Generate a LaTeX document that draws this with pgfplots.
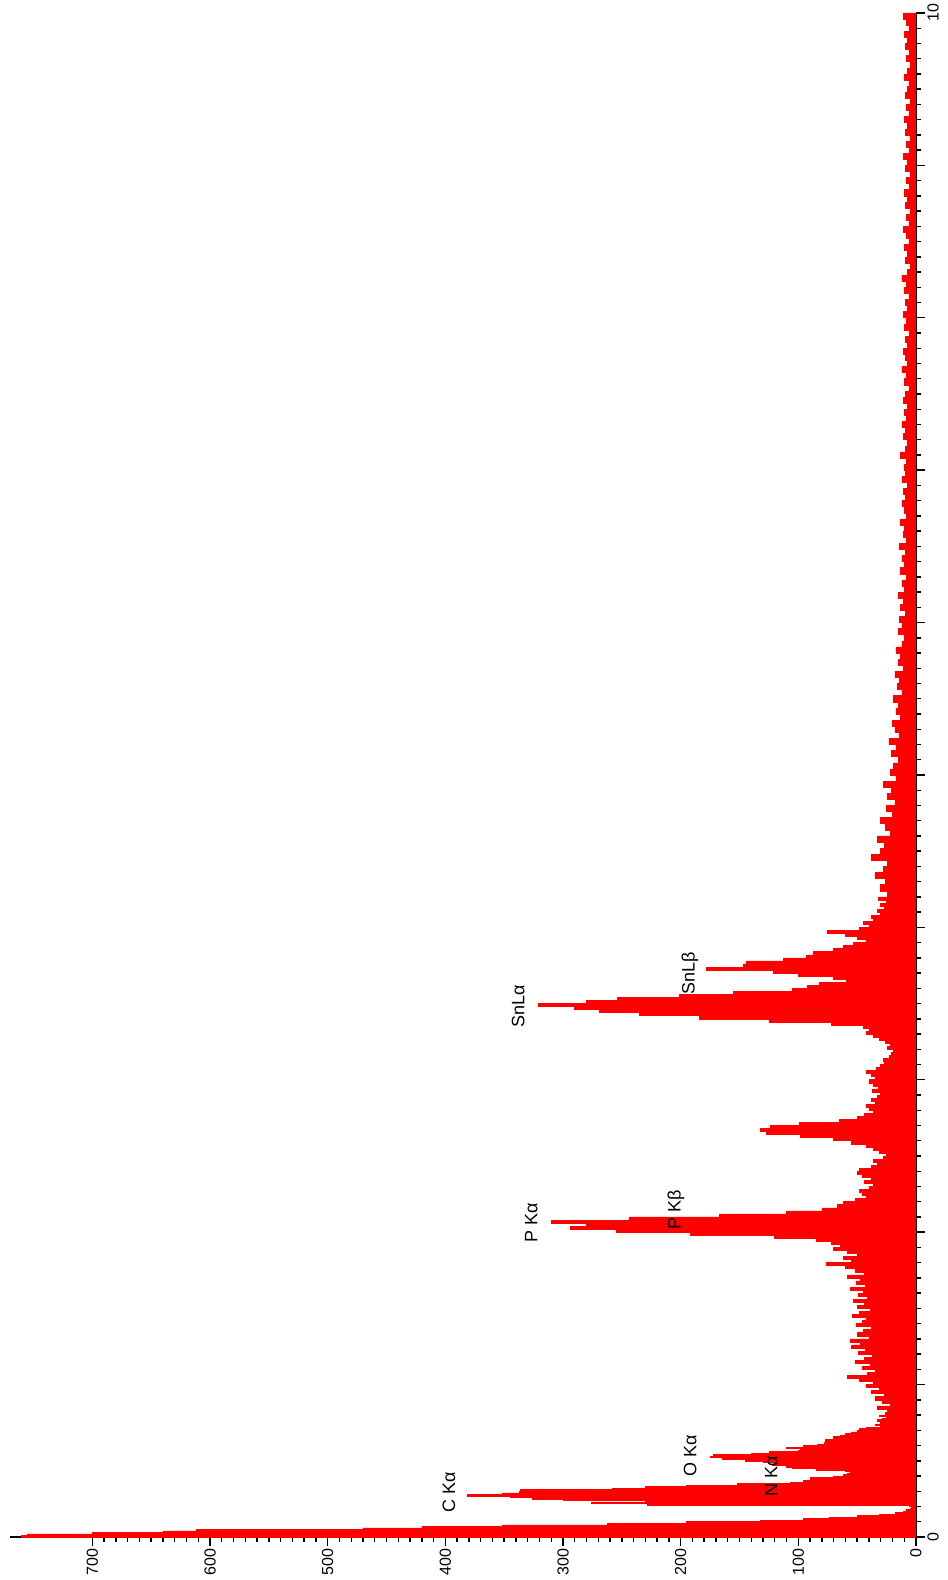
\documentclass[border=0pt]{standalone}
\usepackage{fontspec}
\setmainfont{Liberation Sans}
\usepackage{pgfplots}
\pgfplotsset{compat=1.18}

\begin{document}
\begin{tikzpicture}
\begin{axis}[
  name=ax,
  scale only axis,
  width=453pt, height=762pt,
  x dir=reverse,
  xmin=0, xmax=770,
  ymin=0, ymax=10,
  axis x line*=bottom,
  axis y line*=right,
  xtick={0,100,...,700},
  minor x tick num=9,
  ytick={0,1,...,10},
  yticklabels={0,,,,,,,,,,10},
  minor y tick num=9,
  tick align=outside,
  major tick length=4.5pt,
  minor tick length=2.5pt,
  tick style={black, line width=0.7pt},
  axis line style={black, line width=1pt},
  xticklabel style={rotate=90, anchor=east, inner sep=1pt, font=\fontsize{8}{9.6}\selectfont},
  yticklabel style={rotate=90, anchor=north, inner sep=1pt, font=\fontsize{8}{9.6}\selectfont},
  /pgf/number format/assume math mode=true,
  /pgf/number format/1000 sep={},
]
% EDS spectrum: (counts, energy in keV), drawn as a rotated histogram
\addplot[const plot mark right, fill=red, draw=red, line width=0.3pt] coordinates {
(0,0)
(760,0.00) (755,0.01) (700,0.02) (640,0.03) (612,0.04) (470,0.05) (420,0.06) (352,0.07) (262,0.08) (195,0.09)
(132,0.10) (96,0.11) (74,0.12) (50,0.13) (31,0.14) (18,0.15) (11,0.16) (8,0.17) (5,0.18) (4,0.19)
(6,0.20) (228,0.21) (276,0.22) (230,0.23) (300,0.24) (326,0.25) (345,0.26) (381,0.27) (352,0.28) (337,0.29)
(336,0.30) (258,0.31) (230,0.32) (195,0.33) (152,0.34) (107,0.35) (96,0.36) (88,0.37) (90,0.38) (70,0.39)
(62,0.40) (58,0.41) (56,0.42) (60,0.43) (85,0.44) (105,0.45) (110,0.46) (122,0.47) (120,0.48) (130,0.49)
(145,0.50) (165,0.51) (175,0.52) (172,0.53) (140,0.54) (125,0.55) (100,0.56) (98,0.57) (110,0.58) (96,0.59)
(84,0.60) (78,0.61) (72,0.62) (77,0.63) (68,0.64) (70,0.65) (64,0.66) (60,0.67) (55,0.68) (50,0.69)
(48,0.70) (42,0.71) (30,0.72) (35,0.73) (30,0.74) (27,0.75) (33,0.76) (29,0.77) (25,0.78) (31,0.79)
(26,0.80)
(24,0.82) (33,0.84) (22,0.86) (29,0.88) (35,0.90) (27,0.92) (38,0.94) (31,0.96) (42,0.98)
(36,1.00) (48,1.02) (58,1.04) (41,1.06) (35,1.08) (46,1.10) (39,1.12) (52,1.14) (44,1.16) (37,1.18)
(49,1.20) (43,1.22) (55,1.24) (47,1.26) (56,1.28) (40,1.30) (50,1.32) (45,1.34) (38,1.36) (51,1.38)
(46,1.40) (42,1.42) (54,1.44) (48,1.46) (39,1.48) (50,1.50) (44,1.52) (53,1.54) (41,1.56) (49,1.58)
(45,1.60) (56,1.62) (43,1.64) (51,1.66) (47,1.68) (58,1.70) (44,1.72) (52,1.74) (60,1.76) (76,1.78)
(55,1.80) (62,1.82) (50,1.84) (58,1.86) (70,1.88) (64,1.90) (72,1.92) (85,1.94) (120,1.96) (192,1.98)
(255,2.00) (294,2.02) (280,2.04) (310,2.06) (244,2.08) (167,2.10) (110,2.12) (80,2.14) (67,2.16) (62,2.18)
(52,2.20) (42,2.22) (46,2.24) (48,2.26) (40,2.28) (36,2.30) (44,2.32) (38,2.34) (46,2.36) (50,2.38)
(48,2.40) (38,2.42) (33,2.44) (36,2.46) (28,2.48) (25,2.50) (31,2.52) (36,2.54) (42,2.56) (55,2.58)
(70,2.60) (98,2.62) (127,2.64) (132,2.66) (124,2.68) (99,2.70) (65,2.72) (50,2.74) (44,2.76) (36,2.78)
(40,2.80) (42,2.82) (35,2.84) (38,2.86) (33,2.88) (30,2.90) (37,2.92) (32,2.94) (36,2.96) (40,2.98)
(35,3.00) (38,3.02) (42,3.04) (34,3.06) (30,3.08) (27,3.10) (28,3.12) (23,3.14) (21,3.16) (19,3.18)
(24,3.20) (22,3.22) (26,3.24) (31,3.26) (36,3.28) (42,3.30) (40,3.32) (45,3.34) (72,3.36) (125,3.38)
(184,3.40) (235,3.42) (269,3.44) (290,3.46) (321,3.48) (280,3.50) (254,3.52) (201,3.54) (155,3.56) (105,3.58)
(92,3.60) (82,3.62) (59,3.64) (70,3.66) (100,3.68) (121,3.70) (178,3.72) (147,3.74) (144,3.76) (113,3.78)
(93,3.80) (87,3.82) (70,3.84) (62,3.86) (53,3.88) (42,3.90) (50,3.92) (60,3.94) (75,3.96) (48,3.98)
(40,4.00) (45,4.02) (36,4.04) (38,4.06) (30,4.08) (33,4.10) (27,4.12) (30,4.14) (25,4.16) (32,4.18)
(24,4.20)
(30,4.24) (26,4.28) (35,4.32) (28,4.36) (24,4.40) (38,4.44) (30,4.48) (27,4.52) (33,4.56) (22,4.60)
(26,4.64) (30,4.68) (20,4.72) (25,4.76) (18,4.80) (24,4.84) (21,4.88) (28,4.92) (17,4.96) (22,5.00)
(19,5.04) (15,5.08) (21,5.12) (17,5.16) (23,5.20) (14,5.24) (18,5.28) (20,5.32) (13,5.36) (17,5.40)
(15,5.44) (19,5.48) (12,5.52) (16,5.56) (14,5.60) (18,5.64) (11,5.68) (15,5.72) (13,5.76) (17,5.80)
(12,5.84) (10,5.88) (15,5.92) (12,5.96) (14,6.00) (9,6.04) (13,6.08) (11,6.12) (15,6.16) (10,6.20)
(12,6.24) (8,6.28) (13,6.32) (10,6.36) (12,6.40) (9,6.44) (14,6.48) (8,6.52) (11,6.56) (10,6.60)
(13,6.64) (8,6.68) (10,6.72) (12,6.76) (9,6.80) (11,6.84) (7,6.88) (12,6.92) (9,6.96) (10,7.00)
(8,7.04) (13,7.08) (9,7.12) (7,7.16) (11,7.20) (9,7.24) (12,7.28) (8,7.32) (10,7.36) (7,7.40)
(11,7.44) (9,7.48) (6,7.52) (10,7.56) (8,7.60) (12,7.64) (7,7.68) (9,7.72) (11,7.76) (7,7.80)
(9,7.84) (6,7.88) (10,7.92) (8,7.96) (11,8.00) (7,8.04) (9,8.08) (6,8.12) (10,8.16) (8,8.20)
(12,8.24) (7,8.28) (5,8.32) (9,8.36) (7,8.40) (10,8.44) (6,8.48) (8,8.52) (11,8.56) (6,8.60)
(8,8.64) (5,8.68) (9,8.72) (7,8.76) (10,8.80) (6,8.84) (8,8.88) (5,8.92) (9,8.96) (7,9.00)
(11,9.04) (6,9.08) (8,9.12) (5,9.16) (9,9.20) (7,9.24) (10,9.28) (6,9.32) (8,9.36) (5,9.40)
(9,9.44) (7,9.48) (6,9.52) (10,9.56) (7,9.60) (5,9.64) (8,9.68) (6,9.72) (9,9.76) (7,9.80)
(10,9.84) (6,9.88) (8,9.92) (11,9.96) (7,10.00)
(0,10.00)
};
% peak labels
\begin{scope}[every node/.style={rotate=90, font=\fontsize{9}{10.8}\selectfont, inner sep=0pt}]
\node at (axis cs:397,0.295) {C Kα};
\node at (axis cs:123,0.40) {N Kα};
\node at (axis cs:192,0.53) {O Kα};
\node at (axis cs:327,2.06) {P Kα};
\node at (axis cs:204,2.15) {P Kβ};
\node at (axis cs:338,3.48) {SnLα};
\node at (axis cs:192,3.70) {SnLβ};
\end{scope}
\end{axis}
\pgfresetboundingbox
\path[use as bounding box] ([xshift=-5pt,yshift=-21.5pt]ax.south west) rectangle ([xshift=16pt,yshift=6.5pt]ax.north east);
\end{tikzpicture}
\end{document}
